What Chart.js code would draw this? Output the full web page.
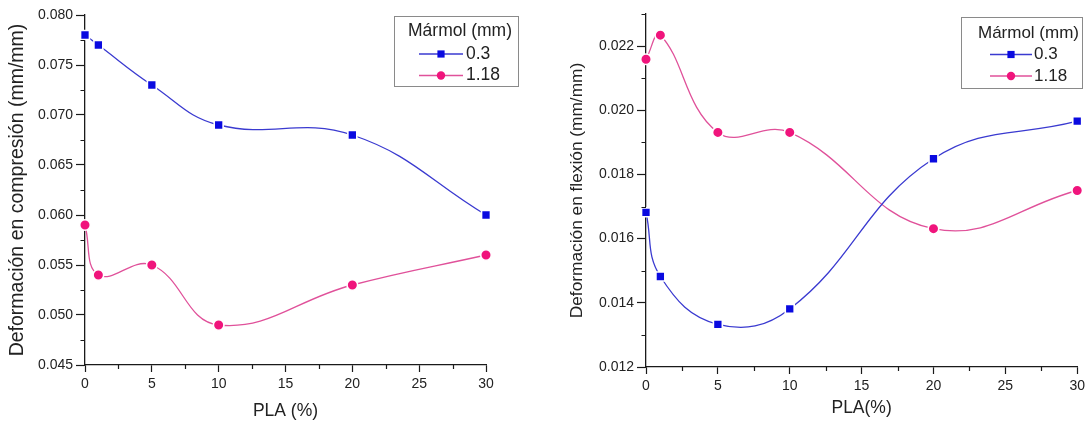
<!DOCTYPE html>
<html><head><meta charset="utf-8">
<script src="https://cdn.jsdelivr.net/npm/chart.js@4.4.1/dist/chart.umd.min.js"></script>
<style>
html,body{margin:0;padding:0;background:#fff;}
#wrap{position:relative;width:1089px;height:423px;overflow:hidden;background:#fff;}
#c1{position:absolute;left:0;top:0;}
#c2{position:absolute;left:545px;top:0;}
</style></head><body>
<div id="wrap"><canvas id="c1" width="545" height="423"></canvas><canvas id="c2" width="544" height="423"></canvas></div>
<script>
// ---- data ----
const plaPercent = [0, 1, 5, 10, 20, 30];
const seriesNames = ['0.3', '1.18'];
const legendTitle = 'Mármol (mm)';
const compresion03  = [0.078, 0.077, 0.073, 0.069, 0.068, 0.060];
const compresion118 = [0.059, 0.054, 0.055, 0.049, 0.053, 0.056];
const flexion03  = [0.01682, 0.01482, 0.01333, 0.01381, 0.01849, 0.01966];
const flexion118 = [0.02159, 0.02234, 0.01931, 0.01931, 0.01631, 0.01750];
const xTicks = [0, 5, 10, 15, 20, 25, 30];
const xMinorTicks = [2.5, 7.5, 12.5, 17.5, 22.5, 27.5];
const yTicksCompresion = [0.045, 0.050, 0.055, 0.060, 0.065, 0.070, 0.075, 0.080];
const yMinorCompresion = [0.0475, 0.0525, 0.0575, 0.0625, 0.0675, 0.0725, 0.0775];
const yTicksFlexion = [0.012, 0.014, 0.016, 0.018, 0.020, 0.022];
const yMinorFlexion = [0.013, 0.015, 0.017, 0.019, 0.021, 0.023];
const titleYLeft = 'Deformación en compresión (mm/mm)';
const titleYRight = 'Deformación en flexión (mm/mm)';
const titleXLeft = 'PLA (%)';
const titleXRight = 'PLA(%)';

// ---- styles ----
const FONT = '"Liberation Sans", Arial, sans-serif';
const TXT = '#222';
const AX = '#1a1a1a';
const BLUE_LINE = '#3a3ad0', BLUE_MK = '#0a0ae0';
const PINK_LINE = '#e0519a', PINK_MK = '#f0147c';

const minorTicks = {
  id: 'minorTicks',
  afterDraw(chart, args, o) {
    if (!o || !o.x) return;
    const ctx = chart.ctx, a = chart.chartArea, sx = chart.scales.x, sy = chart.scales.y;
    ctx.save();
    ctx.strokeStyle = AX; ctx.lineWidth = 1.2;
    ctx.beginPath();
    o.x.forEach(v => { const p = Math.round(sx.getPixelForValue(v)) + 0.5; ctx.moveTo(p, a.bottom); ctx.lineTo(p, a.bottom + 4); });
    o.y.forEach(v => { const p = Math.round(sy.getPixelForValue(v)) + 0.5; ctx.moveTo(a.left, p); ctx.lineTo(a.left - 4.5, p); });
    ctx.stroke();
    ctx.restore();
  }
};

const legendBox = {
  id: 'legendBox',
  afterDraw(chart, args, o) {
    if (!o || !o.title) return;
    const ctx = chart.ctx;
    ctx.save();
    ctx.fillStyle = '#fff';
    ctx.fillRect(o.x, o.y, o.w, o.h);
    ctx.strokeStyle = '#8a8a8a'; ctx.lineWidth = 1;
    ctx.strokeRect(o.x + 0.5, o.y + 0.5, o.w, o.h);
    ctx.font = o.size + 'px ' + FONT;
    ctx.fillStyle = TXT; ctx.textBaseline = 'middle'; ctx.textAlign = 'center';
    ctx.fillText(o.title, o.titleX, o.titleY);
    ctx.textAlign = 'left';
    chart.data.datasets.forEach((ds, i) => {
      const y = o.rowY[i];
      ctx.strokeStyle = ds.borderColor; ctx.lineWidth = ds.borderWidth;
      ctx.beginPath(); ctx.moveTo(o.lineX0, y); ctx.lineTo(o.lineX1, y); ctx.stroke();
      const cx = (o.lineX0 + o.lineX1) / 2;
      ctx.fillStyle = ds.backgroundColor;
      ctx.beginPath();
      if (ds.pointStyle === 'rect') ctx.rect(cx - 3.6, y - 3.6, 7.2, 7.2);
      else ctx.arc(cx, y, 4.2, 0, Math.PI * 2);
      ctx.fill();
      ctx.fillStyle = TXT;
      ctx.fillText(ds.label, o.textX, y);
    });
    ctx.restore();
  }
};

function makeDataset(label, values, isBlue) {
  return {
    label: label,
    data: plaPercent.map((x, i) => ({ x: x, y: values[i] })),
    borderColor: isBlue ? BLUE_LINE : PINK_LINE,
    backgroundColor: isBlue ? BLUE_MK : PINK_MK,
    pointStyle: isBlue ? 'rect' : 'circle',
    pointRadius: isBlue ? 6.3 : 5.3,
    pointBorderColor: '#ffffff',
    pointBorderWidth: 1.6,
    borderWidth: 1.3,
    tension: 0.42,
    cubicInterpolationMode: 'default',
    clip: false
  };
}

function makeChart(id, cfg) {
  return new Chart(document.getElementById(id), {
    type: 'line',
    data: { datasets: [makeDataset(seriesNames[0], cfg.s1, true), makeDataset(seriesNames[1], cfg.s2, false)] },
    options: {
      responsive: false, animation: false, events: [],
      layout: { padding: cfg.padding },
      plugins: { legend: { display: false }, tooltip: { enabled: false },
        minorTicks: { x: xMinorTicks, y: cfg.yMinor },
        legendBox: cfg.legend },
      scales: {
        x: {
          type: 'linear', min: 0, max: 30, offset: false,
          afterBuildTicks: s => { s.ticks = xTicks.map(v => ({ value: v })); },
          afterFit: s => { s.height = cfg.xHeight; },
          grid: { drawOnChartArea: false, drawTicks: true, tickLength: 7, tickWidth: 1.2, tickColor: AX },
          border: { display: true, color: AX, width: 1.3 },
          ticks: { color: TXT, font: { family: FONT, size: 14 }, padding: 4, maxRotation: 0, autoSkip: false, callback: v => String(v) },
          title: { display: true, text: cfg.xTitle, color: TXT, font: { family: FONT, size: 17.5 }, padding: { top: 0, bottom: cfg.xTitlePad } }
        },
        y: {
          type: 'linear', min: cfg.yMin, max: cfg.yMax,
          afterBuildTicks: s => { s.ticks = cfg.yTicks.map(v => ({ value: v })); },
          afterFit: s => { s.width = cfg.yWidth; },
          grid: { drawOnChartArea: false, drawTicks: true, tickLength: 9, tickWidth: 1.2, tickColor: AX },
          border: { display: true, color: AX, width: 1.3 },
          ticks: { color: TXT, font: { family: FONT, size: 14 }, padding: 3, autoSkip: false, callback: v => Number(v).toFixed(3) },
          title: { display: true, text: cfg.yTitle, color: TXT, font: { family: FONT, size: cfg.yTitleSize }, padding: { top: cfg.yTitlePad, bottom: 0 } }
        }
      }
    },
    plugins: [minorTicks, legendBox]
  });
}

makeChart('c1', {
  s1: compresion03, s2: compresion118,
  yMin: 0.045, yMax: 0.080, yTicks: yTicksCompresion, yMinor: yMinorCompresion,
  padding: { left: 0, top: 15, right: 59, bottom: 0 },
  xHeight: 58, yWidth: 85,
  xTitle: titleXLeft, xTitlePad: 1,
  yTitle: titleYLeft, yTitleSize: 19.5, yTitlePad: 6,
  legend: { title: legendTitle, x: 394, y: 16, w: 124, h: 70, size: 17.5, titleX: 460, titleY: 31,
            rowY: [54, 75.5], lineX0: 419, lineX1: 463, textX: 466 }
});

makeChart('c2', {
  s1: flexion03, s2: flexion118,
  yMin: 0.012, yMax: 0.023, yTicks: yTicksFlexion, yMinor: yMinorFlexion,
  padding: { left: 0, top: 14, right: 8, bottom: 0 },
  xHeight: 56, yWidth: 101,
  xTitle: titleXRight, xTitlePad: 4.5,
  yTitle: titleYRight, yTitleSize: 17.3, yTitlePad: 22,
  legend: { title: legendTitle, x: 416, y: 17, w: 121, h: 71, size: 17, titleX: 483.5, titleY: 33,
            rowY: [54.5, 76], lineX0: 445, lineX1: 487, textX: 489 }
});
</script>
</body></html>
